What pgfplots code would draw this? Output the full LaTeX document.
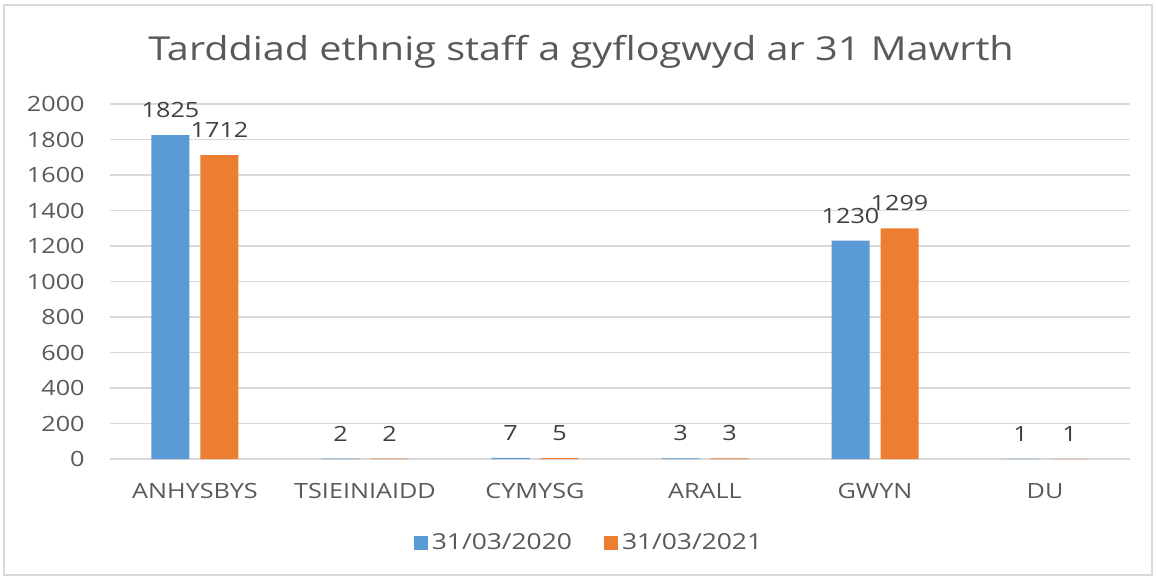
\documentclass[border=0pt]{standalone}
\usepackage{pgfplots}
\pgfplotsset{compat=1.18}
\usepackage{fontspec}
\setmainfont[FakeStretch=1.2]{Open Sans}
\definecolor{cblue}{HTML}{5B9BD5}
\definecolor{corange}{HTML}{ED7D31}
\definecolor{tgray}{HTML}{595959}
\definecolor{lgray}{HTML}{404040}
\definecolor{ggray}{HTML}{D9D9D9}
\begin{document}
\begin{tikzpicture}
\useasboundingbox (0,0) rectangle (578pt,290pt);
\draw[ggray, line width=1pt] (2pt,2.5pt) rectangle (576pt,287.5pt);
\node[anchor=base, text=tgray, font=\fontsize{16.5}{19}\selectfont, inner sep=0] at (290.5pt,259.5pt) {Tarddiad ethnig staff a gyflogwyd ar 31 Mawrth};
\begin{axis}[
  at={(55pt,60.5pt)}, anchor=south west,
  scale only axis, width=510pt, height=177.5pt,
  ybar, bar width=19pt,
  xmin=-0.5, xmax=5.5, ymin=0, ymax=2000,
  xtick=data,
  xticklabels={ANHYSBYS,TSIEINIAIDD,CYMYSG,ARALL,GWYN,DU},
  ytick={0,200,...,2000},
  axis line style={draw=none},
  major tick length=0pt,
  ymajorgrids, grid style={ggray, line width=0.8pt},
  tick label style={text=tgray, font=\fontsize{10.5}{12}\selectfont, inner sep=0pt},
  xticklabel style={anchor=north, yshift=-12pt},
  yticklabel style={anchor=east, xshift=-12.5pt},
  /pgf/number format/assume math mode=true,
  /pgf/number format/1000 sep={},
  nodes near coords,
  every node near coord/.append style={text=lgray, font=\fontsize{10.5}{12}\selectfont, inner sep=0pt, anchor=south, yshift=8.5pt},
  legend columns=2,
  legend style={draw=none, at={(0.4706,-0.2366)}, anchor=center, font=\fontsize{11}{12}\selectfont, text=tgray,
    /tikz/every even column/.append style={column sep=14pt}},
  legend image code/.code={\fill[#1] (0pt,-3.5pt) rectangle (7pt,3.5pt);},
]
\addplot[fill=cblue, draw=none, bar shift=-12.25pt] coordinates {(0,1825) (1,2) (2,7) (3,3) (4,1230) (5,1)};
\addplot[fill=corange, draw=none, bar shift=12.25pt] coordinates {(0,1712) (1,2) (2,5) (3,3) (4,1299) (5,1)};
\legend{31/03/2020, 31/03/2021}
\end{axis}
\end{tikzpicture}
\end{document}
